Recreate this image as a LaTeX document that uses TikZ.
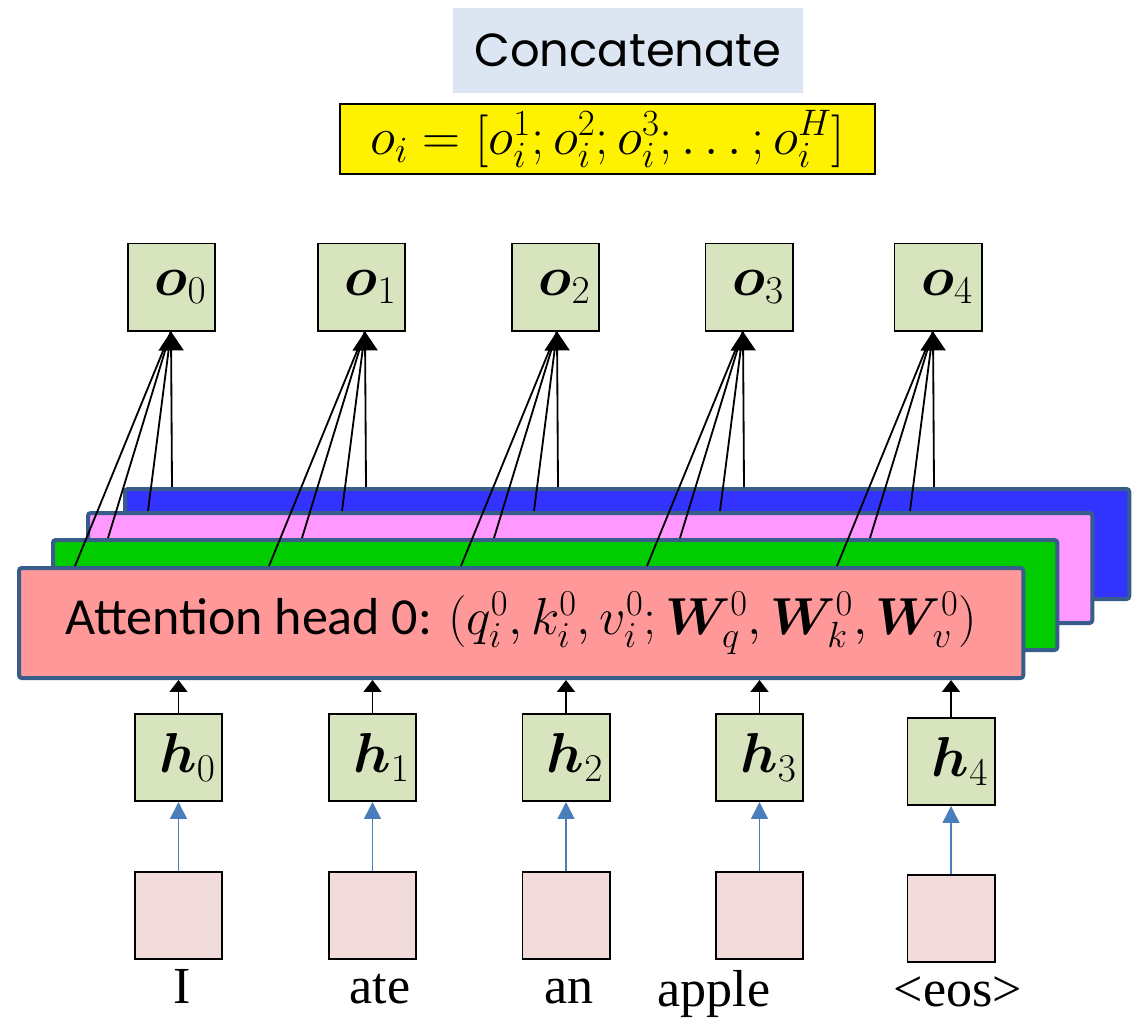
\RequirePackage{fix-cm}
\documentclass[tikz,border=0pt]{standalone}
\usepackage{amsmath,bm}
\usepackage{fontspec}
\newfontfamily\calibrifont{Carlito}
\newfontfamily\wordfont{Liberation Serif}
\newfontfamily\comicfont{Poppins}
\usetikzlibrary{arrows.meta,calc}
\definecolor{headblue}  {RGB}{ 51, 51,255}
\definecolor{headpink}  {RGB}{255,153,255}
\definecolor{headgreen} {RGB}{  0,204,  0}
\definecolor{headred}   {RGB}{255,153,153}
\definecolor{headedge}  {RGB}{ 56, 93,138}
\definecolor{vecgreen}  {RGB}{215,228,189}
\definecolor{embpink}   {RGB}{242,220,219}
\definecolor{concatbg}  {RGB}{220,230,242}
\definecolor{inblue}    {RGB}{ 74,126,187}

\begin{document}
\begin{tikzpicture}[
    x=0.025cm, y=-0.025cm,
    headbox/.style={draw=headedge, line width=2.85pt, rounded corners=2pt, anchor=north west, minimum width=25.1cm, minimum height=2.75cm},
    vecbox/.style={draw, line width=1.4pt, fill=vecgreen, minimum size=2.175cm, inner sep=0pt, font=\fontsize{40}{48}\selectfont},
    embbox/.style={draw, line width=1.4pt, fill=embpink, minimum size=2.175cm},
    word/.style={anchor=base, font=\wordfont\fontsize{37}{44}\selectfont},
    fan/.style={line width=1.3pt},
    fanarrow/.style={fan, -{Triangle[length=13.5pt,width=17.8pt]}},
    uparrow/.style={line width=1.1pt, -{Triangle[length=8.5pt,width=12.8pt]}},
    inarrow/.style={line width=1.1pt, color=inblue, -{Triangle[length=12pt,width=12pt]}}
]
    \useasboundingbox (0,0) rectangle (1137,1019);

    % concatenation
    \node[fill=concatbg, minimum width=8.75cm, minimum height=2.125cm, font=\comicfont\fontsize{33}{40}\selectfont] (concat) at (628,50.5) {Concatenate};
    \node[draw, line width=1.4pt, fill=yellow, minimum width=13.375cm, minimum height=1.75cm, inner sep=0pt, font=\fontsize{37.5}{44}\selectfont] (concatfml) at (607.5,139) {$o_i=[o_i^1;o_i^2;o_i^3;\ldots;o_i^H]$};

    % attention heads, back to front
    \node[headbox, fill=headblue] (head3) at (123,487) {};
    \node[headbox, fill=headpink] (head2) at (86,511) {};
    \node[headbox, fill=headgreen] (head1) at (51,538) {};
    \node[headbox, fill=headred, font=\calibrifont\fontsize{37}{44}\selectfont] (head0) at (17,566) {Attention head 0: $(q_i^0,k_i^0,v_i^0;\bm{W}_q^0,\bm{W}_k^0,\bm{W}_v^0)$\hspace{0.25cm}};

    % outputs
    \foreach \i/\x/\tx in {0/171.5/171,1/361.5/365,2/555.5/557,3/749/743,4/938/933}{
        \node[vecbox] (o\i) at (\x,287) {\hspace{0.45cm}$\bm{o}_\i$};
        \coordinate (tip\i) at (\tx,331.5);
        \draw[fan] ($(head0.north west)+(\tx-113,0)$) -- (tip\i);
        \draw[fan] ($(head1.north west)+(\tx-114,0)$) -- (tip\i);
        \draw[fan] ($(head2.north west)+(\tx-109,0)$) -- (tip\i);
        \draw[fanarrow] ($(head3.north west)+(\tx-122,0)$) -- (tip\i);
    }

    % hidden states and inputs
    \foreach \i/\x/\hy/\ey in {0/178.5/757.5/915.5,1/372.5/757.5/915.5,2/566/757.5/915.5,3/759.5/757.5/915.5,4/951/761.5/918.5}{
        \node[vecbox] (h\i) at (\x,\hy) {\hspace{0.45cm}$\bm{h}_\i$};
        \node[embbox] (x\i) at (\x,\ey) {};
        \draw[inarrow] (x\i) -- (h\i);
        \draw[uparrow] (h\i.north) -- (h\i.north |- head0.south);
    }

    \node[word] (w0) at (182,1003) {I};
    \node[word] (w1) at (380,1003) {ate};
    \node[word] (w2) at (569,1003) {an};
    \node[word] (w3) at (714,1006) {apple};
    \node[word] (w4) at (958,1006) {<eos>};
\end{tikzpicture}
\end{document}
